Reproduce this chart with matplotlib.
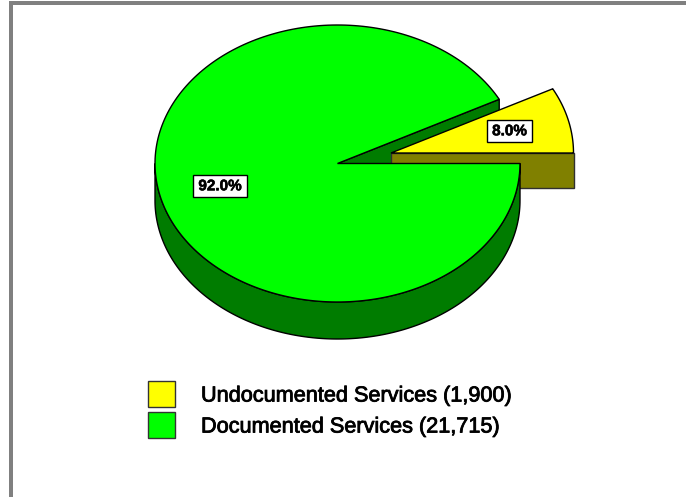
import numpy as np
import matplotlib
matplotlib.use("Agg")
import matplotlib.pyplot as plt
from matplotlib.patches import Polygon, Rectangle
import matplotlib.patheffects as pe

plt.rcParams['font.family'] = ['Liberation Sans', 'DejaVu Sans']

# Service counts behind the pie
categories = ["Undocumented Services", "Documented Services"]
counts = [1900, 21715]
percent_labels = ["8.0%", "92.0%"]

TOP = ["#ffff00", "#00ff00"]
SIDE = ["#808000", "#007c00"]

fig = plt.figure(figsize=(6.86, 4.97), dpi=100)
ax = fig.add_axes([0, 0, 1, 1])
ax.set_xlim(0, 686)
ax.set_ylim(497, 0)
ax.axis("off")

# Frame along the top and left
ax.add_patch(Rectangle((9, 1), 677, 4, fc="#808080", ec="none"))
ax.add_patch(Rectangle((9, 1), 4, 496, fc="#808080", ec="none"))

# Projected pie geometry
cx, cy = 337.5, 163.5
rx, ry = 182.5, 138.5
depth = 37.0
small_depth = 35.0
off_x, off_y = 53.5, -10.5
FORESHORTEN = 0.945  # tilt of the pie plane squeezes angles near the horizontal

fraction = counts[0] / sum(counts)
angle = 2 * np.pi * fraction
split = np.arctan(FORESHORTEN * np.tan(angle))


def rim(t, x0, y0):
    return np.column_stack([x0 + rx * np.cos(t), y0 - ry * np.sin(t)])


def face(a0, a1, x0, y0):
    t = np.linspace(a0, a1, 240)
    return np.vstack([[x0, y0], rim(t, x0, y0)])


LW = 1.0

# Inner wall of the large slice, along its cut edge
tip = rim(np.array([split]), cx, cy)[0]
ax.add_patch(Polygon([[cx, cy], tip, tip + [0, depth], [cx, cy + depth]],
                     closed=True, fc=SIDE[1], ec="black", lw=LW, zorder=2))

# Exploded small slice: front wall, then top face
yx, yy = cx + off_x, cy + off_y
ax.add_patch(Rectangle((yx, yy), rx, small_depth, fc=SIDE[0], ec="#303030", lw=LW, zorder=3))
ax.add_patch(Polygon(face(0, split, yx, yy), closed=True, fc=TOP[0], ec="black", lw=LW, zorder=4))

# Large slice: outer wall below the rim, then top face
t_wall = np.linspace(np.pi, 2 * np.pi, 240)
wall = np.vstack([rim(t_wall, cx, cy), rim(t_wall[::-1], cx, cy + depth)])
ax.add_patch(Polygon(wall, closed=True, fc=SIDE[1], ec="black", lw=LW, zorder=5))
ax.add_patch(Polygon(face(split, 2 * np.pi, cx, cy), closed=True, fc=TOP[1], ec="black", lw=LW, zorder=6))

# Percentage tags
tags = [(487, 120, 45, 22), (193, 175, 54, 22)]
for (x, y, w, h), label in zip(tags, percent_labels):
    ax.add_patch(Rectangle((x, y), w, h, fc="white", ec="black", lw=LW, zorder=7))
    ax.text(x + w / 2, y + h / 2 + 0.3, label, ha="center", va="center", fontsize=11,
            fontweight="bold", color="black", zorder=8,
            path_effects=[pe.withStroke(linewidth=0.4, foreground="black")])

# Legend
rows = [(381, 26, 396), (412, 26, 427)]
legend_text = [f"{name} ({value:,})" for name, value in zip(categories, counts)]
stroke = [pe.withStroke(linewidth=0.6, foreground="black")]
for (y, h, text_y), color, text in zip(rows, TOP, legend_text):
    ax.add_patch(Rectangle((148, y), 27, h, fc=color, ec="#333333", lw=LW, zorder=7))
    ax.text(201, text_y, text, ha="left", va="center", fontsize=15.6, color="black",
            path_effects=stroke, zorder=8)

fig.savefig("out.png", dpi=100, facecolor="white")
